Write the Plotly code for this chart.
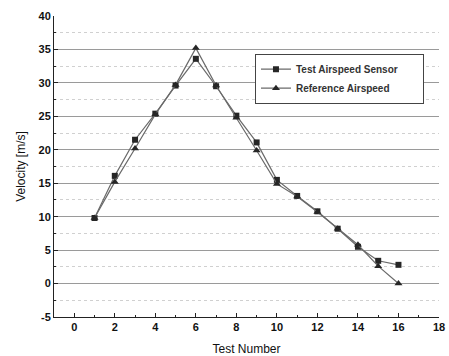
import plotly.graph_objects as go

test_number = [1, 2, 3, 4, 5, 6, 7, 8, 9, 10, 11, 12, 13, 14, 15, 16]
test_sensor = [9.8, 16.1, 21.5, 25.4, 29.6, 33.6, 29.5, 25.1, 21.1, 15.5, 13.1, 10.8, 8.2, 5.5, 3.4, 2.8]
reference = [9.8, 15.2, 20.2, 25.3, 29.7, 35.2, 29.6, 24.8, 19.9, 14.9, 13.0, 10.7, 8.2, 5.8, 2.6, 0.0]

x_ticks = [0, 2, 4, 6, 8, 10, 12, 14, 16, 18]
y_ticks = [-5, 0, 5, 10, 15, 20, 25, 30, 35, 40]

FONT = "Liberation Sans, Arial, sans-serif"
PAD = "\u00a0" * 7

fig = go.Figure()
fig.add_trace(go.Scatter(
    x=test_number, y=test_sensor, mode="lines+markers", name="<b>Test Airspeed Sensor</b>" + PAD,
    line=dict(color="#6a6a6a", width=1.2),
    marker=dict(symbol="square", size=6, color="#262626"),
))
fig.add_trace(go.Scatter(
    x=test_number, y=reference, mode="lines+markers", name="<b>Reference Airspeed</b>",
    line=dict(color="#6a6a6a", width=1.2),
    marker=dict(symbol="triangle-up", size=7, color="#262626"),
))

fig.update_layout(
    width=449, height=356,
    margin=dict(l=54, r=10, t=16, b=39),
    paper_bgcolor="white", plot_bgcolor="white",
    font=dict(family=FONT, color="#111"),
    showlegend=True,
    legend=dict(
        x=0.522, y=0.875, xanchor="left", yanchor="top",
        bgcolor="white", bordercolor="#444", borderwidth=1,
        font=dict(size=10, color="#333", family=FONT),
        tracegroupgap=0, itemwidth=30,
    ),
    xaxis=dict(
        range=[-1, 18], tickvals=x_ticks, ticktext=["<b>%d</b>" % v for v in x_ticks],
        showgrid=False, zeroline=False, automargin=False,
        showline=True, linecolor="#222", linewidth=1,
        ticks="inside", ticklen=4, tickcolor="#222",
        minor=dict(dtick=1, ticks="inside", ticklen=2, tickcolor="#222"),
        tickfont=dict(size=11, family=FONT, color="#111"),
        ticklabeloverflow="allow",
        title=dict(text="Test Number", font=dict(size=12, color="#111"), standoff=12),
    ),
    yaxis=dict(
        range=[-5, 40], tickvals=y_ticks, ticktext=["<b>%d</b>" % v for v in y_ticks],
        showgrid=True, gridcolor="#9a9a9a", gridwidth=1,
        zeroline=False, automargin=False,
        showline=True, linecolor="#222", linewidth=1,
        ticks="inside", ticklen=4, tickcolor="#222",
        minor=dict(dtick=2.5, ticks="inside", ticklen=2, tickcolor="#222",
                   showgrid=True, gridcolor="#d0d0d0", griddash="dot", gridwidth=1),
        tickfont=dict(size=11, family=FONT, color="#111"),
        ticklabeloverflow="allow",
        title=dict(text="Velocity [m/s]", font=dict(size=12, color="#111"), standoff=10),
    ),
)

fig.write_html(
    "out.html",
    config={"displayModeBar": False},
    post_script="document.body.style.margin='0';document.body.style.overflow='hidden';",
)
